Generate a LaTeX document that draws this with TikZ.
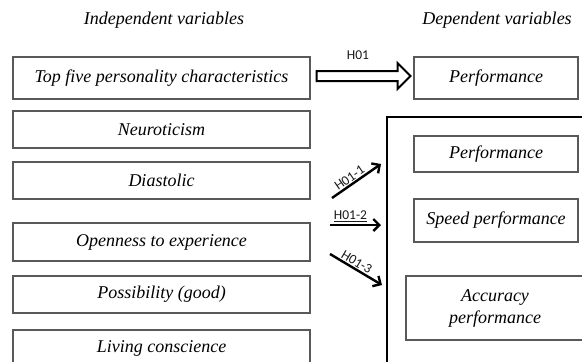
\documentclass[tikz,border=0pt]{standalone}
\usepackage{fontspec}
\setmainfont{Liberation Serif}
\newfontfamily\labfont{Carlito}
\usetikzlibrary{arrows.meta}
\begin{document}
\begin{tikzpicture}[x=1pt,y=-1pt,
  vbox/.style={draw=black!65, line width=1.1pt, inner sep=0pt, align=center,
    font=\fontsize{18}{22}\selectfont\itshape, text=black},
  head/.style={font=\fontsize{18}{22}\selectfont\itshape, text=black},
  hlab/.style={font=\labfont\fontsize{13.5}{15}\selectfont, text=black!90, inner sep=0.5pt},
  harrow/.style={line width=2.4pt, -{Straight Barb[length=6pt,width=12pt,line width=2.4pt]}},
  bigarrow/.style={line width=2pt, fill=white, line join=miter},
  group/.style={draw=black, line width=2.4pt, inner sep=0pt}
]
\useasboundingbox (0,0) rectangle (582,362);

\node[head] (hind) at (164,20) {Independent variables};
\node[head] (hdep) at (497,20) {Dependent variables};

\node[vbox, minimum width=297pt, minimum height=42pt] (b1) at (161.5,78) {Top five personality characteristics};
\node[vbox, minimum width=297pt, minimum height=37pt] (b2) at (161.5,129.5) {Neuroticism};
\node[vbox, minimum width=297pt, minimum height=37pt] (b3) at (161.5,180.5) {Diastolic};
\node[vbox, minimum width=297pt, minimum height=38pt] (b4) at (161.5,242) {Openness to experience};
\node[vbox, minimum width=297pt, minimum height=37pt] (b5) at (161.5,294.5) {Possibility (good)};
\node[vbox, minimum width=297pt, minimum height=37pt] (b6) at (161.5,348.5) {Living conscience};

\node[vbox, minimum width=164pt, minimum height=42pt] (p0) at (496,78) {Performance};

\node[group, minimum width=233pt, minimum height=303pt] (grp) at (503.5,268.5) {};

\node[vbox, minimum width=164pt, minimum height=36pt] (p1) at (496,154) {Performance};
\node[vbox, minimum width=164pt, minimum height=43pt] (p2) at (496,220.5) {Speed performance};
\node[vbox, minimum width=178pt, minimum height=64pt] (p3) at (495,308) {Accuracy\\performance};

% big outlined arrow H01
\draw[bigarrow] ([xshift=6pt,yshift=7pt]b1.east) -- ++(81,0) -- ++(0,-8) -- ++(13,13)
  -- ++(-13,13) -- ++(0,-8) -- ++(-81,0) -- cycle;
\node[hlab] (l0) at (358,55) {H01};

% small arrows into the group
\coordinate (s1) at (332,198);
\coordinate (e1) at (381,164);
\coordinate (s2) at (330,225);
\coordinate (e2) at (381,225);
\coordinate (s3) at (330,254);
\coordinate (e3) at (382,285);
\draw[harrow] (s1) -- node[hlab, midway, sloped, above, xshift=-4pt, yshift=0.5pt] {H01-1} (e1);
\draw[harrow] (s2) -- node[hlab, midway, above, xshift=-5pt, yshift=1.5pt] {\underline{H01-2}} (e2);
\draw[harrow] (s3) -- node[hlab, midway, sloped, above, xshift=-3pt, yshift=0.5pt] {H01-3} (e3);
\end{tikzpicture}
\end{document}
